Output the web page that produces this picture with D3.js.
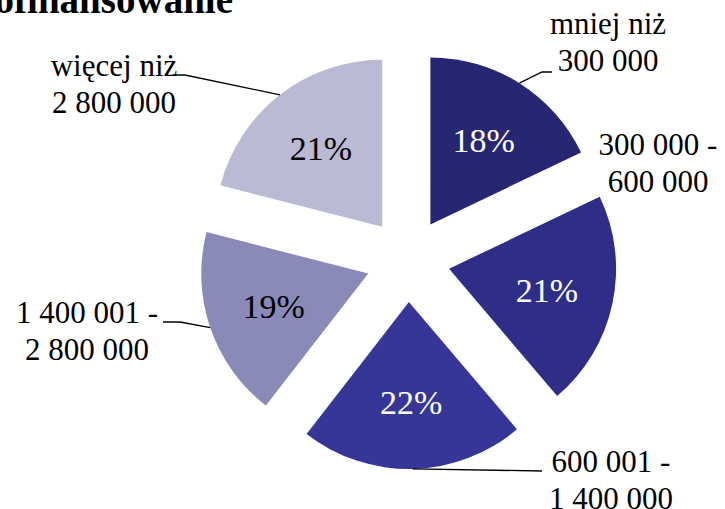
<!DOCTYPE html>
<html>
<head>
<meta charset="utf-8">
<script src="https://cdn.jsdelivr.net/npm/d3@7"></script>
<style>
  body { margin: 0; background: #fff; }
  svg { display: block; font-family: "Liberation Serif", "Times New Roman", serif; }
</style>
</head>
<body>
<svg width="725" height="509"></svg>
<script>
// data
const categories = [
  ["mniej niż", "300 000"],
  ["300 000 -", "600 000"],
  ["600 001 -", "1 400 000"],
  ["1 400 001 -", "2 800 000"],
  ["więcej niż", "2 800 000"]
];
const shares = [17.9, 20.9, 21.7, 18.5, 21.0];
const colors = ["#262673", "#2e2e88", "#363699", "#8a8ab8", "#babad4"];

// layout of the category labels (x centre, first baseline, leader end, knee dx)
const labelLayout = [
  { x: 608, y: 34,  leader: [552, 72],  knee: -10 },
  { x: 658, y: 155, leader: null },
  { x: 611, y: 472, leader: [542, 471], knee: 0 },
  { x: 87,  y: 323, leader: [163, 322], knee: 17 },
  { x: 114, y: 76,  leader: [173, 75],  knee: 12 }
];

const svg = d3.select("svg");
const cx = 408, cy = 260, radius = 167, explode = 42, lineH = 37;

// title (cut at the top edge as in the original)
svg.append("text")
  .attr("x", 233).attr("y", 13)
  .attr("text-anchor", "end")
  .attr("font-weight", "bold")
  .attr("font-size", 39)
  .text("dofinansowanie");

const pie = d3.pie().sort(null).value(d => d);
const arcs = pie(shares);
const arc = d3.arc().innerRadius(0).outerRadius(radius);

const g = svg.append("g").attr("transform", `translate(${cx},${cy})`);

function offset(d, r) {
  const a = (d.startAngle + d.endAngle) / 2;
  return [Math.sin(a) * r, -Math.cos(a) * r];
}

const slices = g.selectAll("g.slice")
  .data(arcs)
  .enter()
  .append("g")
  .attr("class", "slice")
  .attr("transform", d => {
    const [ox, oy] = offset(d, explode);
    return `translate(${ox},${oy})`;
  });

slices.append("path")
  .attr("d", arc)
  .attr("fill", (d, i) => colors[i]);

// percentage labels
slices.append("text")
  .attr("x", d => offset(d, 100)[0])
  .attr("y", d => offset(d, 100)[1])
  .attr("dy", "0.35em")
  .attr("text-anchor", "middle")
  .attr("font-size", 34)
  .attr("fill", (d, i) => i < 3 ? "#fff" : "#000")
  .text(d => Math.round(d.data) + "%");

// leader lines
arcs.forEach((d, i) => {
  const lay = labelLayout[i];
  if (!lay.leader) return;
  const [ox, oy] = offset(d, explode);
  const [ax, ay] = offset(d, radius);
  const sx = cx + ox + ax, sy = cy + oy + ay;
  const [ex, ey] = lay.leader;
  const pts = [[sx, sy], [ex + lay.knee, ey], [ex, ey]];
  svg.append("path")
    .attr("d", d3.line()(pts))
    .attr("fill", "none")
    .attr("stroke", "#000")
    .attr("stroke-width", 1.3);
});

// category labels
labelLayout.forEach((lay, i) => {
  const t = svg.append("text")
    .attr("text-anchor", "middle")
    .attr("font-size", 31)
    .attr("fill", "#000");
  categories[i].forEach((line, j) => {
    t.append("tspan")
      .attr("x", lay.x)
      .attr("y", lay.y + j * lineH)
      .text(line);
  });
});
</script>
</body>
</html>
